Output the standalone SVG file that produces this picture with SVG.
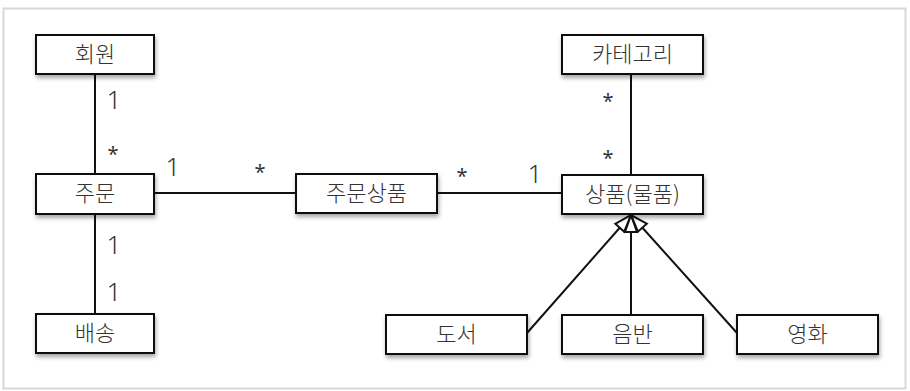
<svg xmlns="http://www.w3.org/2000/svg" width="910" height="391" viewBox="0 0 910 391">
<defs>
<filter id="sh" x="-10%" y="-20%" width="130%" height="160%">
<feDropShadow dx="1" dy="3" stdDeviation="2" flood-color="#000" flood-opacity="0.35"/>
</filter>
<marker id="gen" viewBox="0 0 20 16" refX="19" refY="8" markerWidth="20" markerHeight="16" markerUnits="userSpaceOnUse" orient="auto">
<path d="M2,2 L19,8 L2,14 Z" fill="#fff" stroke="#111" stroke-width="2" stroke-linejoin="miter"/>
</marker>
<style>
.box{fill:#fff;stroke:#111;stroke-width:2;filter:url(#sh)}
.lbl{font-family:"Noto Sans CJK KR","Noto Sans",sans-serif;font-size:22px;fill:#333;text-anchor:middle;font-weight:300}
.m{font-family:"Noto Sans","Noto Sans CJK KR",sans-serif;font-size:26px;fill:#333;text-anchor:middle;font-weight:300}
.st{font-family:"Noto Sans","Noto Sans CJK KR",sans-serif;font-size:20px;fill:#333;text-anchor:middle}
.c{stroke:#111;stroke-width:2;fill:none}
</style>
</defs>
<rect x="0" y="0" width="910" height="391" fill="#fff"/>
<rect x="3.5" y="8.5" width="902" height="380" fill="#fff" stroke="#d8d8d8" stroke-width="2"/>
<g id="connectors">
<line class="c" x1="95" y1="74" x2="95" y2="174"/>
<line class="c" x1="95" y1="214" x2="95" y2="314"/>
<line class="c" x1="154" y1="193" x2="296" y2="193"/>
<line class="c" x1="437" y1="193" x2="562" y2="193"/>
<line class="c" x1="631" y1="74" x2="631" y2="175"/>
<line class="c" x1="527" y1="333" x2="631" y2="215" marker-end="url(#gen)"/>
<line class="c" x1="631" y1="315" x2="631" y2="215" marker-end="url(#gen)"/>
<line class="c" x1="737" y1="333" x2="631" y2="215" marker-end="url(#gen)"/>
<text class="m" x="114" y="109">1</text>
<text class="st" x="113" y="161">*</text>
<text class="m" x="173" y="176">1</text>
<text class="st" x="260" y="179">*</text>
<text class="m" x="114" y="254">1</text>
<text class="m" x="114" y="301">1</text>
<text class="st" x="462" y="183">*</text>
<text class="m" x="535" y="183">1</text>
<text class="st" x="608" y="108">*</text>
<text class="st" x="608" y="165">*</text>
</g>
<g id="n-member"><rect class="box" x="36" y="35" width="118" height="39"/><text class="lbl" x="95" y="62">회원</text></g>
<g id="n-order"><rect class="box" x="36" y="174" width="118" height="40"/><text class="lbl" x="95" y="201">주문</text></g>
<g id="n-delivery"><rect class="box" x="36" y="314" width="118" height="39"/><text class="lbl" x="95" y="341">배송</text></g>
<g id="n-orderitem"><rect class="box" x="296" y="174" width="141" height="39"/><text class="lbl" x="366.5" y="201">주문상품</text></g>
<g id="n-category"><rect class="box" x="562" y="35" width="141" height="39"/><text class="lbl" x="632.5" y="62">카테고리</text></g>
<g id="n-item"><rect class="box" x="562" y="175" width="141" height="39"/><text class="lbl" x="632.5" y="202">상품(물품)</text></g>
<g id="n-book"><rect class="box" x="386" y="315" width="141" height="39"/><text class="lbl" x="456.5" y="342">도서</text></g>
<g id="n-album"><rect class="box" x="562" y="315" width="141" height="39"/><text class="lbl" x="632.5" y="342">음반</text></g>
<g id="n-movie"><rect class="box" x="737" y="315" width="141" height="39"/><text class="lbl" x="807.5" y="342">영화</text></g>
</svg>
